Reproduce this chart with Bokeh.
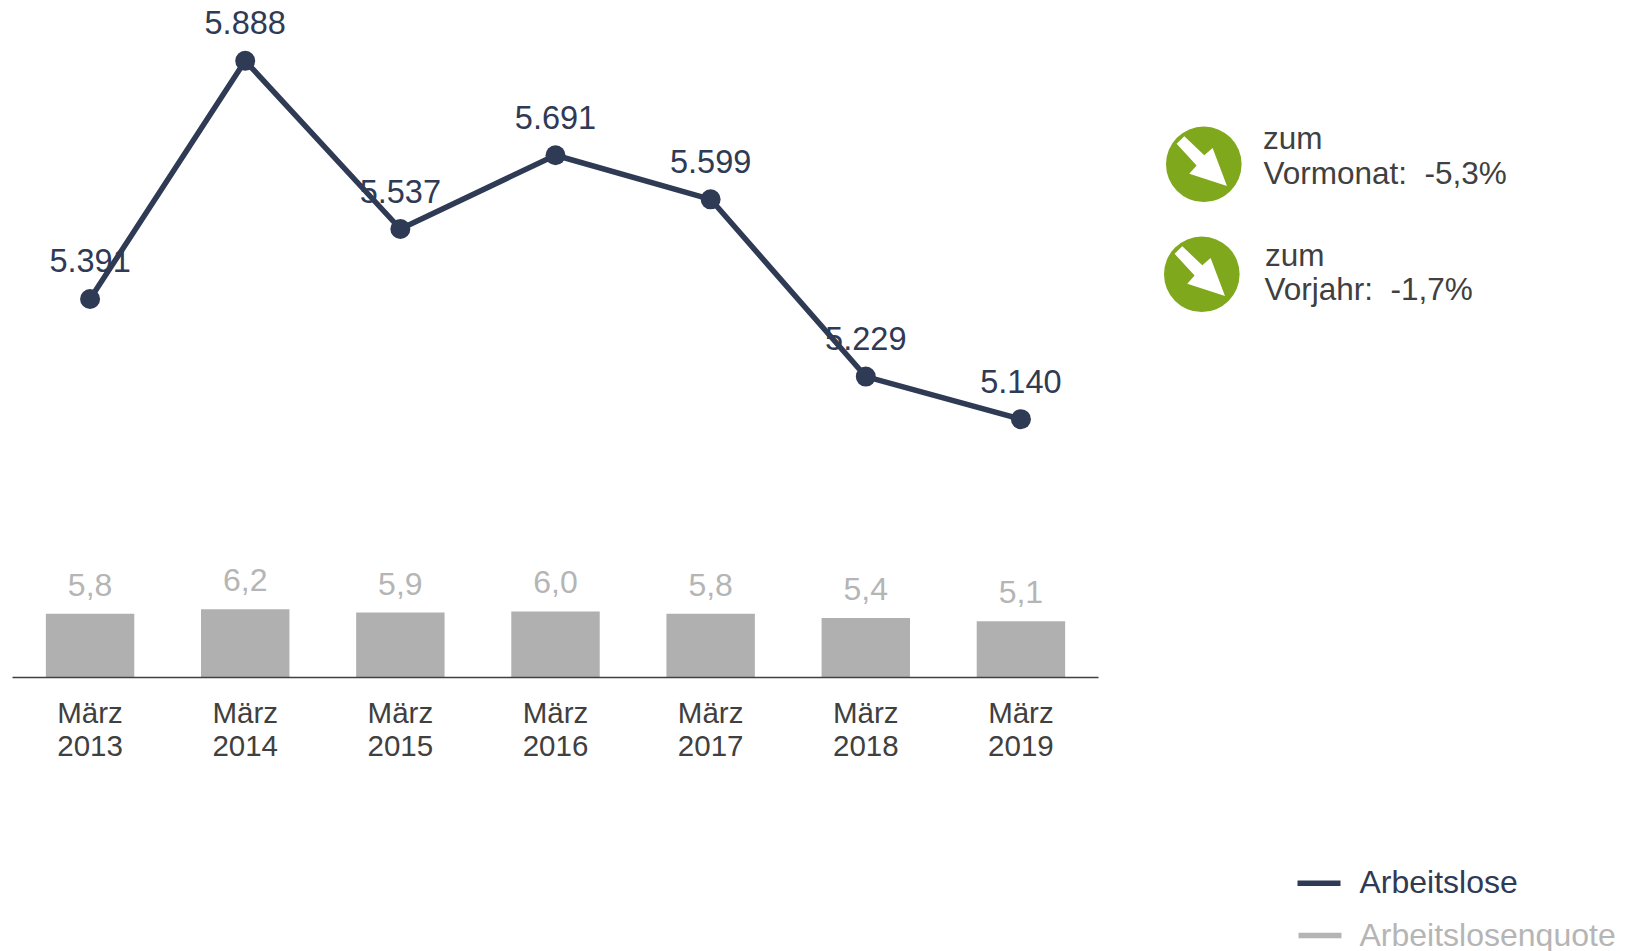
from bokeh.embed import file_html
from bokeh.layouts import row
from bokeh.models import ColumnDataSource, FixedTicker, LinearAxis, Range1d
from bokeh.core.properties import value
from bokeh.plotting import figure
from bokeh.resources import INLINE

months = ["März"] * 7
years = [2013, 2014, 2015, 2016, 2017, 2018, 2019]
arbeitslose = [5391, 5888, 5537, 5691, 5599, 5229, 5140]
arbeitslose_labels = ["5.391", "5.888", "5.537", "5.691", "5.599", "5.229", "5.140"]
quote = [5.8, 6.2, 5.9, 6.0, 5.8, 5.4, 5.1]
quote_labels = ["5,8", "6,2", "5,9", "6,0", "5,8", "5,4", "5,1"]
tick_labels = [f"{m}\n{y}" for m, y in zip(months, years)]
change_texts = [["zum", "Vormonat:\u00a0\u00a0-5,3%"], ["zum", "Vorjahr:\u00a0\u00a0-1,7%"]]
legend_labels = ["Arbeitslose", "Arbeitslosenquote"]

NAVY = "#2f3a54"
GREY = "#b0b0b0"
LABEL_GREY = "#b5b5b5"
TEXT = "#404040"
GREEN = "#7fa81c"
FONT = "Liberation Sans"

positions = list(range(len(years)))
src = ColumnDataSource(dict(x=positions, y=arbeitslose, q=quote,
                            yl=arbeitslose_labels, ql=quote_labels))

p = figure(width=1113, height=951, output_backend="svg", toolbar_location=None,
           x_range=Range1d(-0.5, 6.5), y_range=Range1d(4600.8, 6014),
           min_border_left=12, min_border_right=15, min_border_top=0, min_border_bottom=274,
           x_axis_location=None, y_axis_location=None, outline_line_color=None,
           frame_align=False)
p.background_fill_color = None
p.border_fill_color = None
p.grid.visible = False
p.extra_y_ranges = {"quote": Range1d(0, 61.5)}

p.vbar(x="x", top="q", width=0.57, bottom=0, y_range_name="quote", source=src,
       fill_color=GREY, line_color=None)
p.text(x="x", y="q", text="ql", y_range_name="quote", source=src, text_color=LABEL_GREY,
       text_font=value(FONT), text_font_size="32px", text_align="center",
       text_baseline="middle", y_offset=-29)
p.line(x="x", y="y", source=src, line_color=NAVY, line_width=5.5)
p.scatter(x="x", y="y", source=src, size=20, fill_color=NAVY, line_color=None)
p.text(x="x", y="y", text="yl", source=src, text_color=NAVY,
       text_font=value(FONT), text_font_size="32.5px", text_align="center",
       text_baseline="middle", y_offset=-38)

ax = LinearAxis(ticker=FixedTicker(ticks=positions),
                major_label_overrides=dict(zip(positions, tick_labels)))
ax.axis_line_color = TEXT
ax.axis_line_width = 1.5
ax.major_tick_line_color = None
ax.minor_tick_line_color = None
ax.major_label_text_color = TEXT
ax.major_label_text_font = FONT
ax.major_label_text_font_size = "29.5px"
ax.major_label_text_line_height = 1.02
ax.major_label_standoff = 12
p.add_layout(ax, "below")

# right-hand side: coordinates of this panel are page pixels
q = figure(width=515, height=951, output_backend="svg", toolbar_location=None,
           x_range=Range1d(1113, 1628), y_range=Range1d(951, 0),
           min_border=0, x_axis_location=None, y_axis_location=None,
           outline_line_color=None, frame_align=False)
q.background_fill_color = None
q.border_fill_color = None
q.grid.visible = False

icon_centers = [(1203.3, 163.8), (1201.3, 273.8)]
arrow = [(-19.5, -28), (0.5, -9), (8.8, -16.2), (23.2, 21.8), (-14.5, 9.5), (-7.2, 1.2), (-27.2, -20.5)]
for cx, cy in icon_centers:
    q.circle(x=[cx], y=[cy], radius=37.8, fill_color=GREEN, line_color=None)
    q.patch(x=[cx + a for a, _ in arrow], y=[cy + b for _, b in arrow],
            fill_color="white", line_color=None)

text_rows = [(1262.5, 137, change_texts[0][0]), (1263, 172, change_texts[0][1]),
             (1264.5, 254, change_texts[1][0]), (1264, 288.5, change_texts[1][1])]
for tx, ty, t in text_rows:
    q.text(x=[tx], y=[ty], text=[t], text_color=TEXT, text_font=value(FONT),
           text_font_size="31.5px", text_baseline="alphabetic")

legend_rows = [(1297, 882.7, 881.5, NAVY, NAVY, legend_labels[0]),
               (1298, 935, 934, LABEL_GREY, LABEL_GREY, legend_labels[1])]
for lx, ly, tb, lc, tc, t in legend_rows:
    q.line(x=[lx, lx + 43], y=[ly, ly], line_color=lc, line_width=5.5)
    q.text(x=[1359], y=[tb], text=[t], text_color=tc, text_font=value(FONT),
           text_font_size="32px", text_baseline="alphabetic")

layout = row(p, q, spacing=0)
open("out.html", "w").write(file_html(layout, INLINE))
